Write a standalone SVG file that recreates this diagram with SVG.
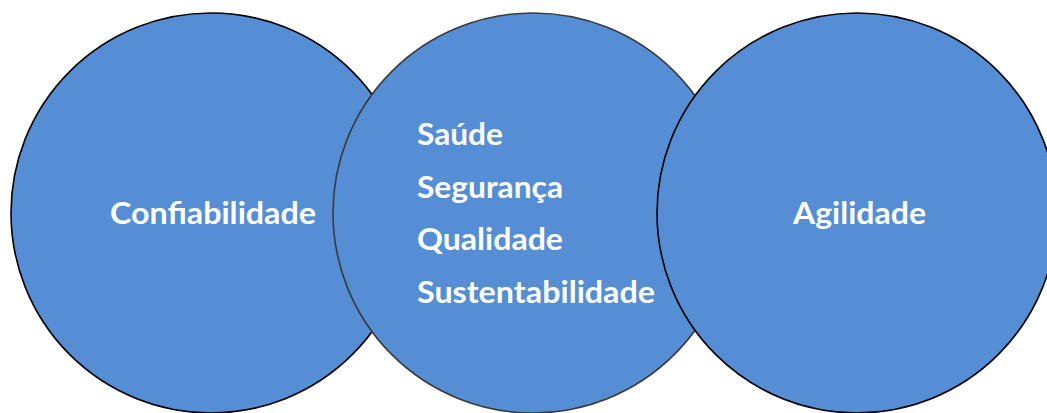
<svg xmlns="http://www.w3.org/2000/svg" width="1047" height="413" viewBox="0 0 1047 413">
<style>
.c{fill:#558ED5;stroke-width:1.6}
.t{font-family:Lato,"Open Sans","Liberation Sans",sans-serif;font-weight:bold;font-size:31px;fill:#ffffff}
</style>
<rect width="1047" height="413" fill="#ffffff"/>
<g id="node-confiabilidade">
<circle class="c" cx="211" cy="213" r="200" stroke="#000000"/>
<text class="t" x="110" y="224" textLength="206" lengthAdjust="spacingAndGlyphs">Confiabilidade</text>
</g>
<g id="node-centro">
<circle class="c" cx="533" cy="213" r="200" stroke="#3a3a3a"/>
<text class="t" x="417" y="145" textLength="86" lengthAdjust="spacingAndGlyphs">Saúde</text>
<text class="t" x="417" y="198" textLength="146" lengthAdjust="spacingAndGlyphs">Segurança</text>
<text class="t" x="417" y="250" textLength="146" lengthAdjust="spacingAndGlyphs">Qualidade</text>
<text class="t" x="417" y="303" textLength="238" lengthAdjust="spacingAndGlyphs">Sustentabilidade</text>
</g>
<g id="node-agilidade">
<circle class="c" cx="857" cy="213" r="200" stroke="#000000"/>
<text class="t" x="793" y="224" textLength="133" lengthAdjust="spacingAndGlyphs">Agilidade</text>
</g>
<g id="connectors"></g>
</svg>
